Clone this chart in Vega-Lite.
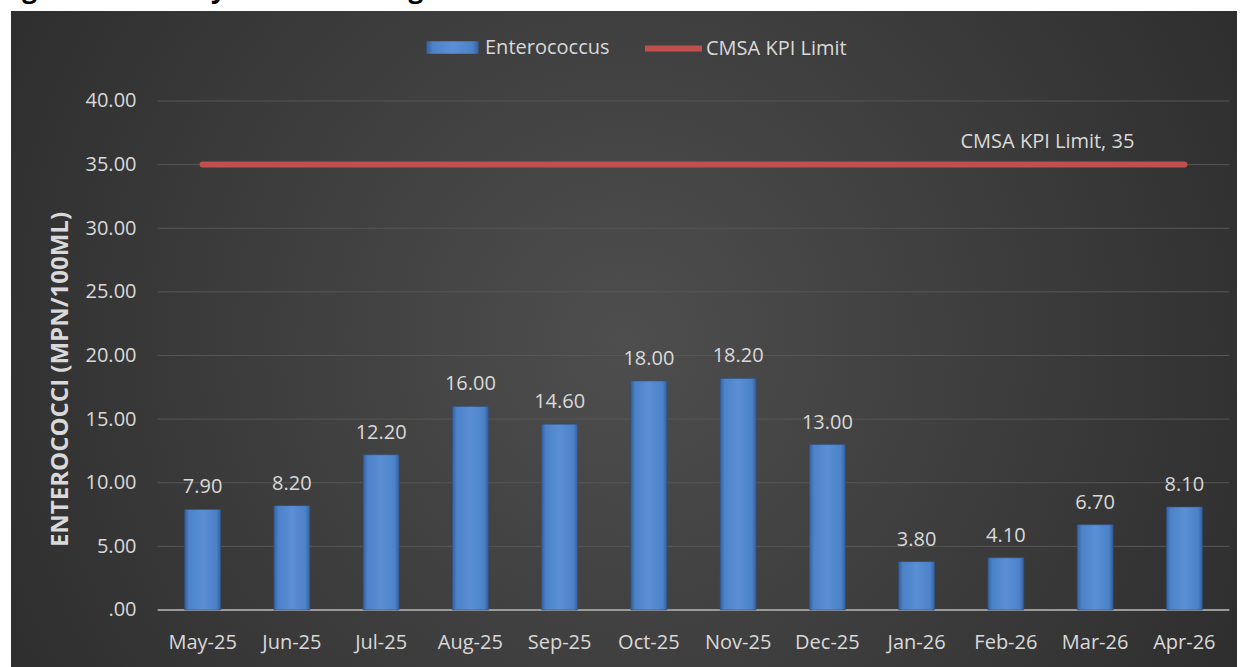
{
  "$schema": "https://vega.github.io/schema/vega-lite/v6.json",
  "autosize": "none",
  "width": 1226,
  "height": 656,
  "padding": {"top": 11, "left": 11, "right": 11, "bottom": 0},
  "background": "#ffffff",
  "title": {
    "text": "Figure 4: Monthly 6-Week Rolling Geometric Maximum Enterococcus",
    "anchor": "start",
    "frame": "group",
    "font": "Open Sans",
    "fontSize": 26,
    "fontWeight": "bold",
    "color": "#000000",
    "baseline": "alphabetic",
    "offset": -13,
    "dx": -11
  },
  "datasets": {
    "main": [
      {"month": "May-25", "enterococcus": 7.9, "limit": 35},
      {"month": "Jun-25", "enterococcus": 8.2, "limit": 35},
      {"month": "Jul-25", "enterococcus": 12.2, "limit": 35},
      {"month": "Aug-25", "enterococcus": 16.0, "limit": 35},
      {"month": "Sep-25", "enterococcus": 14.6, "limit": 35},
      {"month": "Oct-25", "enterococcus": 18.0, "limit": 35},
      {"month": "Nov-25", "enterococcus": 18.2, "limit": 35},
      {"month": "Dec-25", "enterococcus": 13.0, "limit": 35},
      {"month": "Jan-26", "enterococcus": 3.8, "limit": 35},
      {"month": "Feb-26", "enterococcus": 4.1, "limit": 35},
      {"month": "Mar-26", "enterococcus": 6.7, "limit": 35},
      {"month": "Apr-26", "enterococcus": 8.1, "limit": 35}
    ],
    "grid": [
      {"v": 5}, {"v": 10}, {"v": 15}, {"v": 20}, {"v": 25}, {"v": 30}, {"v": 35}, {"v": 40}
    ]
  },
  "data": {"name": "main"},
  "encoding": {
    "x": {
      "field": "month",
      "type": "ordinal",
      "sort": null,
      "scale": {
        "domain": ["May-25", "Jun-25", "Jul-25", "Aug-25", "Sep-25", "Oct-25", "Nov-25", "Dec-25", "Jan-26", "Feb-26", "Mar-26", "Apr-26"],
        "range": [147, 1218],
        "paddingInner": 0.597, "paddingOuter": 0.2985
      },
      "axis": {
        "title": null,
        "orient": "bottom",
        "offset": -57,
        "domain": false,
        "ticks": false,
        "labelAngle": 0,
        "labelPadding": 22,
        "labelFont": "Open Sans",
        "labelFontSize": 20,
        "labelColor": "#d9d9d9"
      }
    }
  },
  "layer": [
    {
      "data": {"name": "grid"},
      "mark": {"type": "rule", "color": "#575757", "strokeWidth": 1},
      "encoding": {
        "x": {"datum": "May-25", "type": "ordinal", "bandPosition": -0.75},
        "x2": {"datum": "Apr-26", "bandPosition": 1.75},
        "y": {"field": "v", "type": "quantitative"}
      }
    },
    {
      "data": {"values": [{"v": 0}]},
      "mark": {"type": "rule", "color": "#9a9a9a", "strokeWidth": 2},
      "encoding": {
        "x": {"datum": "May-25", "type": "ordinal", "bandPosition": -0.75},
        "x2": {"datum": "Apr-26", "bandPosition": 1.75},
        "y": {"field": "v", "type": "quantitative"}
      }
    },
    {
      "mark": {
        "type": "bar",
        "stroke": "#2d5287",
        "strokeWidth": 0.6,
        "fill": {
          "gradient": "linear",
          "x1": 0, "y1": 0, "x2": 1, "y2": 0,
          "stops": [
            {"offset": 0, "color": "#35609e"},
            {"offset": 0.12, "color": "#4c82c8"},
            {"offset": 0.5, "color": "#5a8fd4"},
            {"offset": 0.88, "color": "#4c82c8"},
            {"offset": 1, "color": "#35609e"}
          ]
        }
      },
      "encoding": {
        "y": {
          "field": "enterococcus",
          "type": "quantitative",
          "scale": {"domain": [-4.48, 47.07], "nice": false, "zero": false},
          "axis": {
            "title": "ENTEROCOCCI (MPN/100ML)",
            "titleFont": "Open Sans",
            "titleFontSize": 24,
            "titleFontWeight": "bold",
            "titleColor": "#d9d9d9",
            "titleX": -98,
            "titleY": 368,
            "titleAngle": -90,
            "titleAlign": "center",
            "titleBaseline": "middle",
            "values": [0, 5, 10, 15, 20, 25, 30, 35, 40],
            "labelExpr": "datum.value == 0 ? '.00' : format(datum.value, '.2f')",
            "offset": -147,
            "labelPadding": 22,
            "domain": false,
            "ticks": false,
            "grid": false,
            "labelFont": "Open Sans",
            "labelFontSize": 20,
            "labelColor": "#d9d9d9"
          }
        },
        "opacity": {
          "datum": "Enterococcus",
          "type": "nominal",
          "scale": {"range": [1]},
          "legend": {
            "orient": "none",
            "legendX": 415,
            "legendY": 10,
            "title": null,
            "padding": 0,
            "symbolType": "M-1,-0.24H1V0.24H-1Z",
            "symbolSize": 2704,
            "symbolFillColor": "#4f81bd",
            "symbolStrokeColor": "#2d5287",
            "symbolStrokeWidth": 0.6,
            "labelOffset": 6,
            "labelFont": "Open Sans",
            "labelFontSize": 20,
            "labelColor": "#d9d9d9"
          }
        }
      }
    },
    {
      "mark": {"type": "text", "baseline": "alphabetic", "dy": -16, "font": "Open Sans", "fontSize": 20, "color": "#d9d9d9"},
      "encoding": {
        "y": {"field": "enterococcus", "type": "quantitative"},
        "text": {"field": "enterococcus", "type": "quantitative", "format": ".2f"}
      }
    },
    {
      "mark": {"type": "line", "strokeWidth": 6, "strokeCap": "round"},
      "encoding": {
        "y": {"field": "limit", "type": "quantitative"},
        "stroke": {
          "datum": "CMSA KPI Limit",
          "type": "nominal",
          "scale": {"range": ["#c0504d"]},
          "legend": {
            "orient": "none",
            "legendX": 631,
            "legendY": 6,
            "title": null,
            "padding": 0,
            "symbolType": "stroke",
            "symbolSize": 3249,
            "symbolStrokeWidth": 6,
            "labelOffset": 1,
            "labelFont": "Open Sans",
            "labelFontSize": 20,
            "labelColor": "#d9d9d9"
          }
        }
      }
    },
    {
      "transform": [{"filter": "datum.month == 'Apr-26'"}],
      "mark": {"type": "text", "text": "CMSA KPI Limit, 35", "align": "right", "baseline": "alphabetic", "dx": -50, "dy": -17, "font": "Open Sans", "fontSize": 20, "color": "#d9d9d9"},
      "encoding": {
        "y": {"field": "limit", "type": "quantitative"}
      }
    }
  ],
  "config": {
    "view": {
      "stroke": null,
      "fill": {
        "gradient": "radial",
        "x1": 0.5, "y1": 0.5, "r1": 0,
        "x2": 0.5, "y2": 0.5, "r2": 0.75,
        "stops": [
          {"offset": 0, "color": "#4e4e4e"},
          {"offset": 1, "color": "#242424"}
        ]
      }
    }
  }
}
